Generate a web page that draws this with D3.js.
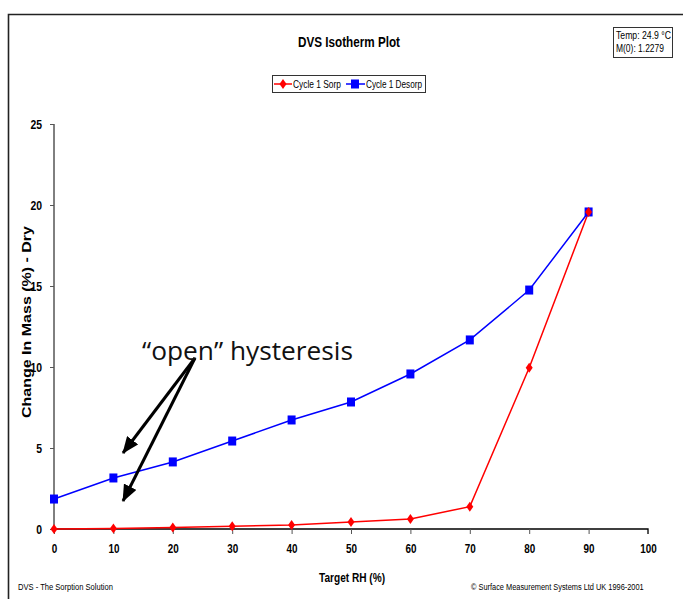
<!DOCTYPE html>
<html><head><meta charset="utf-8">
<script src="https://cdn.jsdelivr.net/npm/d3@7"></script>
<style>
html,body{margin:0;padding:0;background:#fff;}
svg{display:block;}
</style>
</head><body>
<svg id="chart" width="683" height="599"></svg>
<script>
const rhValues = [0,10,20,30,40,50,60,70,80,90];
const sorpValues = [0,0.03,0.1,0.17,0.25,0.43,0.62,1.38,9.95,19.57];
const desorpValues = [1.85,3.15,4.14,5.43,6.73,7.84,9.57,11.67,14.75,19.57];
const xTicks = [0,10,20,30,40,50,60,70,80,90,100];
const yTicks = [0,5,10,15,20,25];
const seriesNames = ["Cycle 1 Sorp","Cycle 1 Desorp"];

const svg = d3.select("#chart");
const x = d3.scaleLinear().domain([0,100]).range([54,648]);
const y = d3.scaleLinear().domain([0,25]).range([529,124]);
const NF = '"Liberation Sans",Arial,sans-serif';

// squeeze text horizontally to given width (emulates a narrow font)
function fitW(sel, w){ sel.attr("textLength", w).attr("lengthAdjust","spacingAndGlyphs"); return sel; }
function squeeze(sel, f){ sel.each(function(){ const L=this.getComputedTextLength(); d3.select(this).attr("textLength",L*f).attr("lengthAdjust","spacingAndGlyphs"); }); }
// squeeze via transform (keeps bounding box exact)
function fitT(sel, px, py, w){ const L=sel.node().getComputedTextLength(); sel.attr("x",0).attr("y",0).attr("transform",`translate(${px},${py}) scale(${w/L},1)`); return sel; }

// frame
svg.append("path").attr("d","M8.5,599 L8.5,14.5 L683,14.5").attr("fill","none").attr("stroke","#222").attr("stroke-width",1.6);

// title
fitW(svg.append("text").attr("x",298).attr("y",47)
  .attr("font-family",NF).attr("font-weight","bold").attr("font-size",14.5).text("DVS Isotherm Plot"),102);

// temp box
svg.append("rect").attr("x",613.5).attr("y",27.5).attr("width",59).attr("height",30).attr("fill","#fff").attr("stroke","#333");
fitW(svg.append("text").attr("x",616).attr("y",39).attr("font-family",NF).attr("font-size",10.5).text("Temp:  24.9 °C"),55);
fitW(svg.append("text").attr("x",616).attr("y",52).attr("font-family",NF).attr("font-size",10.5).text("M(0):  1.2279"),48);

// legend
const lg = svg.append("g");
lg.append("rect").attr("x",272.5).attr("y",75.5).attr("width",153).attr("height",17).attr("fill","#fff").attr("stroke","#333");
function diamond(g,cx,cy){ g.append("path").attr("d",`M${cx},${cy-5}L${cx+3.5},${cy}L${cx},${cy+5}L${cx-3.5},${cy}Z`).attr("fill","#ff0000"); }
function square(g,cx,cy){ g.append("rect").attr("x",cx-4).attr("y",cy-4.5).attr("width",8).attr("height",9).attr("fill","#0000ff"); }
lg.append("line").attr("x1",274).attr("x2",292).attr("y1",84).attr("y2",84).attr("stroke","#ff0000").attr("stroke-width",1.5);
diamond(lg,283,84);
fitW(lg.append("text").attr("x",293).attr("y",88).attr("font-family",NF).attr("font-size",11).text(seriesNames[0]),48);
lg.append("line").attr("x1",346).attr("x2",365).attr("y1",84).attr("y2",84).attr("stroke","#0000ff").attr("stroke-width",1.5);
square(lg,355,84);
fitW(lg.append("text").attr("x",366).attr("y",88).attr("font-family",NF).attr("font-size",11).text(seriesNames[1]),56);

// axes
const xAxis = d3.axisBottom(x).tickValues(xTicks).tickSize(5).tickPadding(10).tickFormat(d3.format("d"));
const gx = svg.append("g").attr("transform","translate(0,529)").call(xAxis);
gx.select(".domain").attr("stroke","#000").attr("stroke-width",1.3).attr("d","M54,0H648V5");
gx.selectAll(".tick line").attr("stroke","#555");
gx.selectAll("text").attr("font-family",NF).attr("font-weight","bold").attr("font-size",13).attr("fill","#000");
squeeze(gx.selectAll("text"),0.76);

const yAxis = d3.axisLeft(y).tickValues(yTicks).tickSize(4).tickPadding(8).tickFormat(d3.format("d"));
const gy = svg.append("g").attr("transform","translate(54,0)").call(yAxis);
gy.select(".domain").attr("stroke","#000").attr("stroke-width",1).attr("d","M0,124V529");
gy.selectAll(".tick line").attr("stroke","#555");
gy.selectAll("text").attr("font-family",NF).attr("font-weight","bold").attr("font-size",13).attr("fill","#000");
squeeze(gy.selectAll("text"),0.8);

// axis titles
fitW(svg.append("text").attr("transform","translate(31,322) rotate(-90)").attr("text-anchor","middle")
  .attr("font-family",NF).attr("font-weight","bold").attr("font-size",13).text("Change In Mass (%) - Dry"),192);
fitW(svg.append("text").attr("x",319).attr("y",582)
  .attr("font-family",NF).attr("font-weight","bold").attr("font-size",12.5).text("Target RH (%)"),66);

// footers
fitT(svg.append("text").attr("font-family",NF).attr("font-size",9.5).text("DVS - The Sorption Solution"),18,590,95);
fitT(svg.append("text").attr("font-family",NF).attr("font-size",9.5).text("© Surface Measurement Systems Ltd UK 1996-2001"),471,590,173);

// lines
const line = d3.line().x((d,i)=>x(rhValues[i])).y(d=>y(d));
svg.append("path").datum(desorpValues).attr("d",line).attr("fill","none").attr("stroke","#0000ff").attr("stroke-width",1.5);
svg.append("path").datum(sorpValues).attr("d",line).attr("fill","none").attr("stroke","#ff0000").attr("stroke-width",1.5);
const mg = svg.append("g");
desorpValues.forEach((v,i)=>square(mg,x(rhValues[i]),y(v)));
sorpValues.forEach((v,i)=>diamond(mg,x(rhValues[i]),y(v)));

// annotation
const defs = svg.append("defs");
defs.append("marker").attr("id","ah").attr("viewBox","0 0 17 14").attr("refX",16).attr("refY",7)
  .attr("markerWidth",17).attr("markerHeight",14).attr("markerUnits","userSpaceOnUse").attr("orient","auto")
  .append("path").attr("d","M0,0L17,7L0,14Z").attr("fill","#000");
svg.append("line").attr("x1",195).attr("y1",358).attr("x2",123).attr("y2",453).attr("stroke","#000").attr("stroke-width",3).attr("marker-end","url(#ah)");
svg.append("line").attr("x1",195).attr("y1",358).attr("x2",123).attr("y2",501).attr("stroke","#000").attr("stroke-width",3).attr("marker-end","url(#ah)");
fitW(svg.append("text").attr("x",142).attr("y",360).attr("font-family","'Open Sans','Noto Sans',sans-serif").attr("font-size",25.5).attr("fill","#111").text("“open” hysteresis"),211);
</script>
</body></html>
